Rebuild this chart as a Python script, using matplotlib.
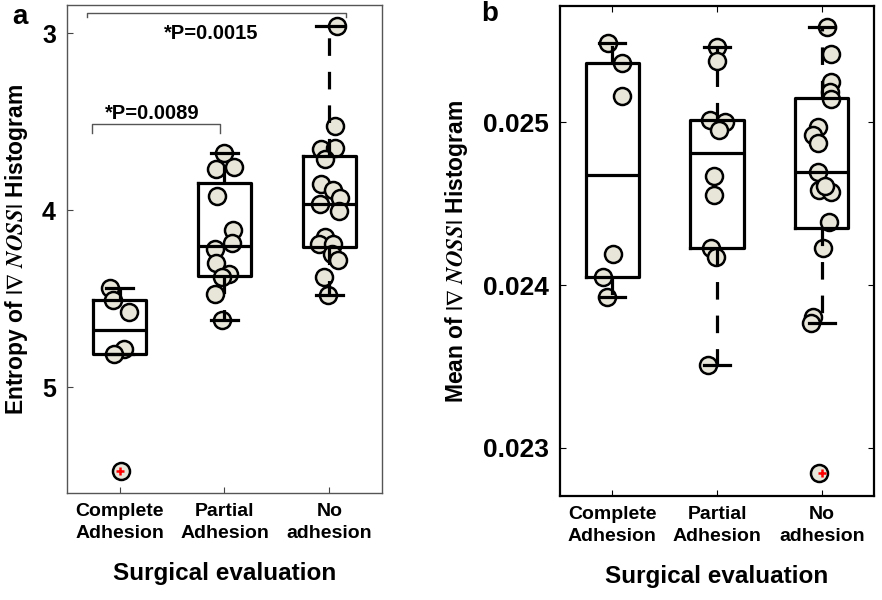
import numpy as np
import matplotlib.pyplot as plt

plt.rcParams['font.family'] = ['Liberation Sans', 'DejaVu Sans']
plt.rcParams['font.weight'] = 'bold'
plt.rcParams['mathtext.fontset'] = 'stix'

groups = ['Complete\nAdhesion', 'Partial\nAdhesion', 'No\nadhesion']

# panel a: entropy values
ent_complete = [4.438, 4.510, 4.576, 4.783, 4.811, 5.476]
ent_partial = [3.678, 3.770, 3.757, 3.921, 4.115, 4.184, 4.218, 4.299,
               4.363, 4.379, 4.472, 4.619]
ent_no = [2.962, 3.527, 3.653, 3.647, 3.710, 3.855, 3.885, 3.930, 3.968,
          4.006, 4.153, 4.190, 4.194, 4.246, 4.280, 4.379, 4.482]

# panel b: mean values
mean_complete = [0.025489, 0.025366, 0.025162, 0.024190, 0.024047, 0.023924]
mean_partial = [0.025465, 0.025379, 0.025014, 0.025004, 0.024953, 0.024670,
                0.024553, 0.024229, 0.024174, 0.023508]
mean_no = [0.025588, 0.025418, 0.025246, 0.025188, 0.025141, 0.024973,
           0.024922, 0.024871, 0.024696, 0.024584, 0.024573, 0.024608,
           0.024389, 0.024226, 0.023805, 0.023765, 0.022843]

# horizontal jitter of the dots
jit_a = [[-0.086, -0.060, 0.092, 0.041, -0.048, 0.016],
         [-0.007, -0.079, 0.089, -0.070, 0.083, 0.067, -0.086, -0.079,
          0.041, -0.022, -0.086, -0.022],
         [0.073, 0.050, -0.076, 0.050, -0.045, -0.079, 0.035, 0.098, -0.086,
          0.089, -0.045, -0.102, 0.035, 0.026, 0.083, -0.054, -0.012]]
jit_b = [[-0.041, 0.092, 0.092, 0.007, -0.089, -0.050],
         [-0.003, 0.003, -0.067, 0.076, 0.022, -0.029, -0.029, -0.057,
          -0.010, -0.089],
         [0.054, 0.092, 0.092, 0.076, 0.092, -0.035, -0.083, -0.035, -0.035,
          -0.026, 0.092, 0.029, 0.070, 0.012, -0.083, -0.098, -0.026]]


def box_stats(v):
    # matlab style quartiles
    v = np.asarray(v)
    q1, med, q3 = np.percentile(v, [25, 50, 75], method='hazen')
    iqr = q3 - q1
    lo, hi = q1 - 1.5 * iqr, q3 + 1.5 * iqr
    inside = v[(v >= lo) & (v <= hi)]
    return dict(med=med, q1=q1, q3=q3, whislo=inside.min(), whishi=inside.max(),
                fliers=v[(v < lo) | (v > hi)])


def draw(ax, data, jit):
    for i, (vals, jj) in enumerate(zip(data, jit)):
        ax.scatter(np.array(jj) + i + 1, vals, s=150, facecolor='#e8e6d9',
                   edgecolor='black', linewidth=1.8, zorder=2)
    ax.bxp([box_stats(v) for v in data], positions=[1, 2, 3], widths=0.51,
           capwidths=0.25, patch_artist=False,
           boxprops=dict(color='black', linewidth=2.3),
           medianprops=dict(color='black', linewidth=2.3),
           capprops=dict(color='black', linewidth=2.3),
           whiskerprops=dict(color='black', linewidth=2.3,
                             linestyle=(0, (5.5, 5))),
           flierprops=dict(marker='+', markeredgecolor='red', markersize=6,
                           markeredgewidth=1.8, linestyle='none'),
           zorder=3)
    ax.set_xlim(0.5, 3.5)
    ax.set_xticks([1, 2, 3])
    ax.set_xticklabels(groups, fontsize=14, fontweight='bold',
                       linespacing=1.4)
    ax.set_xlabel('Surgical evaluation', fontsize=17.5, fontweight='bold',
                  labelpad=14)


fig = plt.figure(figsize=(8.82, 6), dpi=100)

# panel a
ax1 = fig.add_axes([0.076, 0.178, 0.357, 0.813])
draw(ax1, [ent_complete, ent_partial, ent_no], jit_a)
ax1.set_ylim(5.60, 2.844)
ax1.set_yticks([3, 4, 5])
ax1.set_yticklabels(['3', '4', '5'], fontsize=18, fontweight='bold')
ax1.tick_params(direction='in', length=4, pad=8, color='#444444')
ax1.tick_params(axis='x', pad=7)
for s in ax1.spines.values():
    s.set_color('#555555')
    s.set_linewidth(1.0)
ax1.set_ylabel(r'Entropy of $|\nabla$ $\mathit{NOSS}|$ Histogram',
               fontsize=16.5, fontweight='bold', labelpad=9)

# significance brackets
ax1.plot([0.69, 0.69, 3.16, 3.16], [2.912, 2.887, 2.887, 2.912],
         color='#555555', lw=1, clip_on=False)
ax1.text(1.87, 3.0, '*P=0.0015', ha='center', va='center', fontsize=14.5,
         fontweight='bold')
ax1.plot([0.74, 0.74, 1.96, 1.96], [3.567, 3.516, 3.516, 3.567],
         color='#555555', lw=1)
ax1.text(1.31, 3.454, '*P=0.0089', ha='center', va='center', fontsize=14.5,
         fontweight='bold')

# panel b
ax2 = fig.add_axes([0.635, 0.173, 0.356, 0.817])
draw(ax2, [mean_complete, mean_partial, mean_no], jit_b)
ax2.set_ylim(0.022703, 0.025715)
ax2.set_yticks([0.023, 0.024, 0.025])
ax2.set_yticklabels(['0.023', '0.024', '0.025'], fontsize=19,
                    fontweight='bold')
ax2.tick_params(direction='in', length=4, pad=8, top=True, right=True)
ax2.tick_params(axis='x', pad=7)
for s in ax2.spines.values():
    s.set_linewidth(1.6)
ax2.set_ylabel(r'Mean of $|\nabla$ $\mathit{NOSS}|$ Histogram',
               fontsize=16.5, fontweight='bold', labelpad=9)

fig.text(20 / 882, 1 - 17 / 600, 'a', fontsize=20, fontweight='bold',
         ha='center', va='center')
fig.text(490 / 882, 1 - 14 / 600, 'b', fontsize=20, fontweight='bold',
         ha='center', va='center')

plt.savefig('out.png', dpi=100)
